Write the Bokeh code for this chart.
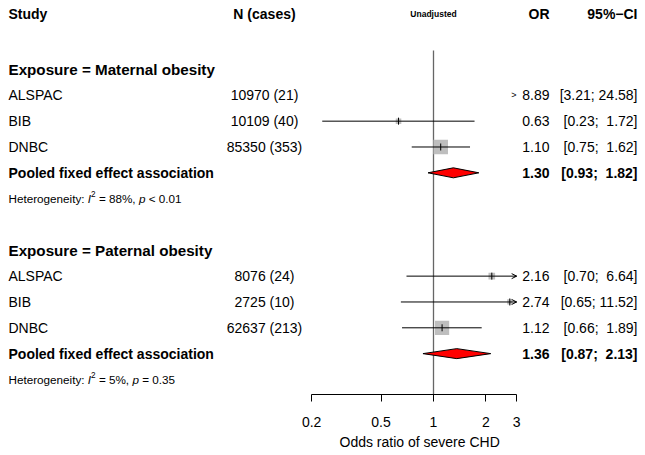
import math
from bokeh.plotting import figure
from bokeh.models import Range1d, FixedTicker, Arrow, OpenHead, ColumnDataSource, NumeralTickFormatter, Title
from bokeh.core.properties import value
from bokeh.embed import file_html
from bokeh.resources import INLINE

# ---------------- data ----------------
studies = ["ALSPAC", "BIB", "DNBC"]
groups = ["Exposure = Maternal obesity", "Exposure = Paternal obesity"]
pooled_label = "Pooled fixed effect association"

mat_n = [10970, 10109, 85350]
mat_cases = [21, 40, 353]
mat_or = [8.89, 0.63, 1.10]
mat_lo = [3.21, 0.23, 0.75]
mat_hi = [24.58, 1.72, 1.62]
mat_pooled = [1.30, 0.93, 1.82]
mat_i2 = "88%"
mat_p = "< 0.01"

pat_n = [8076, 2725, 62637]
pat_cases = [24, 10, 213]
pat_or = [2.16, 2.74, 1.12]
pat_lo = [0.70, 0.65, 0.66]
pat_hi = [6.64, 11.52, 1.89]
pat_pooled = [1.36, 0.87, 2.13]
pat_i2 = "5%"
pat_p = "= 0.35"

x_ticks = [0.2, 0.5, 1, 2, 3]
x_title = "Odds ratio of severe CHD"
header = ["Study", "N (cases)", "Unadjusted", "OR", "95%\u2212CI"]

# ---------------- layout ----------------
FW, FH = 645, 394
X1, SC = 433.0, 75.7          # screen px of OR = 1, px per ln unit
XMIN, XMAX = x_ticks[0], x_ticks[-1]
ROW = 25.83
HEAD_Y = 13
GROUP_Y = [69, 69 + 7 * ROW]
FONT = value("Liberation Sans")
FS = "14px"
NB = "\u00a0"


def px2or(px):
    return math.exp((px - X1) / SC)


COL_STUDY = px2or(8)
COL_N = px2or(264)
COL_OR = px2or(549)
COL_CI = px2or(637)

p = figure(frame_width=FW, frame_height=FH, x_axis_type="log", y_axis_location=None,
           x_range=Range1d(px2or(0), px2or(FW)), y_range=Range1d(FH, 0),
           output_backend="svg", toolbar_location=None, min_border=0,
           background_fill_color="white", border_fill_color="white")
p.outline_line_color = None
p.grid.visible = False

# axis
ax = p.xaxis[0]
ax.ticker = FixedTicker(ticks=x_ticks, minor_ticks=[])
ax.formatter = NumeralTickFormatter(format="0.[0]")
ax.bounds = (XMIN, XMAX)
ax.axis_line_color = "black"
ax.axis_line_width = 1
ax.major_tick_line_color = "black"
ax.major_tick_out = 7
ax.major_tick_in = 0
ax.minor_tick_out = 0
ax.minor_tick_in = 0
ax.major_label_text_font = "Liberation Sans"
ax.major_label_text_font_size = FS
ax.major_label_text_color = "black"
ax.major_label_standoff = 15

# axis title, centred under the plotted OR range (as in the reference)
p.add_layout(Title(text=x_title, align="left", offset=339, standoff=5,
                   text_font="Liberation Sans", text_font_size=FS,
                   text_font_style="normal", text_color="black"), "below")


def txt(x, y, s, align="left", size=FS, style="normal", color="black"):
    p.text(x=[x], y=[y], text=[s], text_align=align, text_baseline="middle",
           text_font=FONT, text_font_size=size, text_font_style=style, text_color=color)


def fmt_ci(lo, hi):
    return "[" + f"{lo:.2f}" + ";" + NB + f"{hi:.2f}".rjust(5, NB) + "]"


# header
txt(COL_STUDY, HEAD_Y, header[0], style="bold")
txt(COL_N, HEAD_Y, header[1], align="center", style="bold")
txt(1.0, HEAD_Y, header[2], align="center", size="8.5px", style="bold")
txt(COL_OR, HEAD_Y, header[3], align="right", style="bold")
txt(COL_CI, HEAD_Y, header[4], align="right", style="bold")

# reference line
p.segment(x0=[1], y0=[GROUP_Y[0] - 19], x1=[1], y1=[FH], line_color="#666666", line_width=1.3)

# char widths (Arial/Liberation Sans regular, em units) for composing the heterogeneity line
CW = {" ": .278, NB: .278, "H": .722, "e": .556, "t": .278, "r": .333, "o": .556, "g": .556,
      "n": .556, "i": .222, "y": .5, ":": .278, "=": .584, "%": .889, ",": .278, "<": .584,
      ".": .278, "p": .556, "I": .278}


def width(s, size):
    return sum(CW.get(c, .556) for c in s) * size


HS = 11.7
all_data = [
    (mat_n, mat_cases, mat_or, mat_lo, mat_hi, mat_pooled, mat_i2, mat_p),
    (pat_n, pat_cases, pat_or, pat_lo, pat_hi, pat_pooled, pat_i2, pat_p),
]

for g, (ns, cs, ors, los, his, pooled, i2, pv) in enumerate(all_data):
    gy = GROUP_Y[g]
    txt(COL_STUDY, gy, groups[g], size="15.2px", style="bold")
    # inverse-variance weights from the CIs -> square size
    w = [1 / (((math.log(h) - math.log(l)) / 3.92) ** 2) for l, h in zip(los, his)]
    wp = [wi / sum(w) for wi in w]
    seg = dict(x0=[], x1=[], y=[])
    sq = dict(x=[], y=[], size=[])
    tk = dict(x=[], y0=[], y1=[])
    for i, s in enumerate(studies):
        y = gy + (i + 1) * ROW
        txt(COL_STUDY, y, s)
        txt(COL_N, y, f"{ns[i]} ({cs[i]})", align="center")
        txt(COL_OR, y, f"{ors[i]:.2f}", align="right")
        txt(COL_CI, y, fmt_ci(los[i], his[i]), align="right")
        if los[i] < XMAX and his[i] > XMIN:
            seg["x0"].append(max(los[i], XMIN))
            seg["x1"].append(min(his[i], XMAX))
            seg["y"].append(y)
            if his[i] > XMAX:
                p.add_layout(Arrow(end=OpenHead(size=5, line_width=1, line_color="black"),
                                   x_start=XMAX * 0.97, y_start=y, x_end=XMAX, y_end=y,
                                   line_width=1, line_color="black"))
        elif los[i] >= XMAX:
            p.text(x=[px2or(513.5)], y=[y], text=[">"], text_align="center", text_baseline="middle",
                   text_font=FONT, text_font_size="9px", text_color="black")
        if XMIN <= ors[i] <= XMAX:
            sq["x"].append(ors[i])
            sq["y"].append(y)
            sq["size"].append(16.5 * math.sqrt(wp[i]))
            tk["x"].append(ors[i])
            tk["y0"].append(y - 3.5)
            tk["y1"].append(y + 3.5)
    p.scatter(x="x", y="y", size="size", marker="square", source=ColumnDataSource(sq),
              fill_color="#bebebe", line_color=None)
    p.segment(x0="x0", y0="y", x1="x1", y1="y", source=ColumnDataSource(seg),
              line_color="black", line_width=1)
    p.segment(x0="x", y0="y0", x1="x", y1="y1", source=ColumnDataSource(tk),
              line_color="black", line_width=1)

    # pooled
    py = gy + 4 * ROW
    est, lo, hi = pooled
    p.patches(xs=[[lo, est, hi, est]], ys=[[py, py - 5, py, py + 5]],
              fill_color="#ff0000", line_color="black", line_width=1)
    txt(COL_STUDY, py, pooled_label, style="bold")
    txt(COL_OR, py, f"{est:.2f}", align="right", style="bold")
    txt(COL_CI, py, fmt_ci(lo, hi), align="right", style="bold")

    # heterogeneity
    hy = gy + 5 * ROW
    pieces = [("Heterogeneity:" + NB, "normal", HS, 0), ("I", "italic", HS, 0),
              ("2", "normal", HS * 0.7, -4.5), (NB + "=" + NB + i2 + "," + NB, "normal", HS, 0),
              ("p", "italic", HS, 0), (NB + pv.replace(" ", NB), "normal", HS, 0)]
    cx = 8
    for s, st, sz, dy in pieces:
        p.text(x=[px2or(cx)], y=[hy + dy], text=[s], text_align="left", text_baseline="middle",
               text_font=FONT, text_font_size=f"{sz}px", text_font_style=st, text_color="black")
        cx += width(s, sz)

open("out.html", "w").write(file_html(p, INLINE))
